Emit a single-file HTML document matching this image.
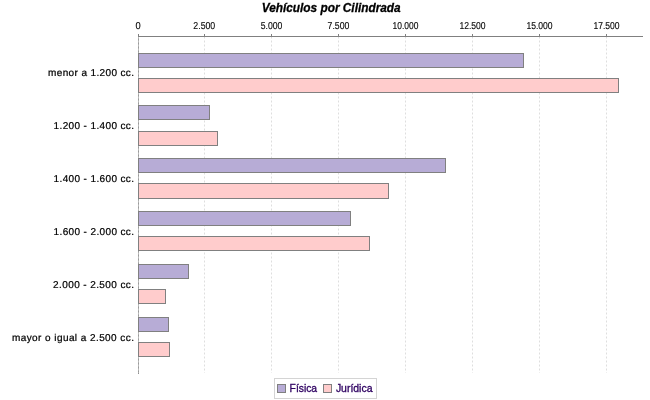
<!DOCTYPE html>
<html><head><meta charset="utf-8"><title>Vehículos por Cilindrada</title>
<style>
html,body{margin:0;padding:0;background:#fff;}
body{width:650px;height:400px;overflow:hidden;font-family:"Liberation Sans",sans-serif;}
svg{display:block;will-change:transform;}
text{font-family:"Liberation Sans",sans-serif;}
.t{text-rendering:geometricPrecision;font-size:10px;fill:#000;text-anchor:middle;stroke:#000;stroke-width:0.12px;}
.c{text-rendering:geometricPrecision;font-size:10px;fill:#000;text-anchor:end;letter-spacing:0.37px;stroke:#000;stroke-width:0.22px;}
.l{font-size:11px;fill:#2e0061;stroke:#2e0061;stroke-width:0.32px;}
</style></head><body>
<svg width="650" height="400" viewBox="0 0 650 400">
<rect x="0" y="0" width="650" height="400" fill="#ffffff"/>
<text x="331.2" y="11.8" text-anchor="middle" font-size="12.5" font-weight="bold" font-style="italic" fill="#000" stroke="#000" stroke-width="0.3" textLength="139" lengthAdjust="spacingAndGlyphs">Vehículos por Cilindrada</text>
<g shape-rendering="crispEdges" fill="none">
<line x1="204.5" y1="36.5" x2="204.5" y2="373" stroke="#dedede" stroke-width="1" stroke-dasharray="2,2" shape-rendering="geometricPrecision"/>
<line x1="271.5" y1="36.5" x2="271.5" y2="373" stroke="#dedede" stroke-width="1" stroke-dasharray="2,2" shape-rendering="geometricPrecision"/>
<line x1="338.5" y1="36.5" x2="338.5" y2="373" stroke="#dedede" stroke-width="1" stroke-dasharray="2,2" shape-rendering="geometricPrecision"/>
<line x1="405.5" y1="36.5" x2="405.5" y2="373" stroke="#dedede" stroke-width="1" stroke-dasharray="2,2" shape-rendering="geometricPrecision"/>
<line x1="472.5" y1="36.5" x2="472.5" y2="373" stroke="#dedede" stroke-width="1" stroke-dasharray="2,2" shape-rendering="geometricPrecision"/>
<line x1="539.5" y1="36.5" x2="539.5" y2="373" stroke="#dedede" stroke-width="1" stroke-dasharray="2,2" shape-rendering="geometricPrecision"/>
<line x1="606.5" y1="36.5" x2="606.5" y2="373" stroke="#dedede" stroke-width="1" stroke-dasharray="2,2" shape-rendering="geometricPrecision"/>
<line x1="138.5" y1="37" x2="138.5" y2="374" stroke="#bebebe" stroke-width="1"/>
<line x1="138.5" y1="38.5" x2="138.5" y2="374" stroke="#9a9a9a" stroke-width="1" stroke-dasharray="2,2" shape-rendering="geometricPrecision"/>
<line x1="138.5" y1="373" x2="138.5" y2="374" stroke="#909090" stroke-width="1"/>
<rect x="138.5" y="53.5" width="385" height="14" fill="#b7acd6" stroke="#808080" stroke-width="1"/>
<rect x="138.5" y="78.5" width="480" height="14" fill="#ffcccc" stroke="#808080" stroke-width="1"/>
<rect x="138.5" y="105.5" width="71" height="14" fill="#b7acd6" stroke="#808080" stroke-width="1"/>
<rect x="138.5" y="131.5" width="79" height="14" fill="#ffcccc" stroke="#808080" stroke-width="1"/>
<rect x="138.5" y="158.5" width="307" height="14" fill="#b7acd6" stroke="#808080" stroke-width="1"/>
<rect x="138.5" y="183.5" width="250" height="15" fill="#ffcccc" stroke="#808080" stroke-width="1"/>
<rect x="138.5" y="211.5" width="212" height="14" fill="#b7acd6" stroke="#808080" stroke-width="1"/>
<rect x="138.5" y="236.5" width="231" height="14" fill="#ffcccc" stroke="#808080" stroke-width="1"/>
<rect x="138.5" y="264.5" width="50" height="14" fill="#b7acd6" stroke="#808080" stroke-width="1"/>
<rect x="138.5" y="289.5" width="27" height="14" fill="#ffcccc" stroke="#808080" stroke-width="1"/>
<rect x="138.5" y="317.5" width="30" height="14" fill="#b7acd6" stroke="#808080" stroke-width="1"/>
<rect x="138.5" y="342.5" width="31" height="14" fill="#ffcccc" stroke="#808080" stroke-width="1"/>
<line x1="138" y1="36.5" x2="643" y2="36.5" stroke="#808080" stroke-width="1"/>
<line x1="138.5" y1="34" x2="138.5" y2="36" stroke="#808080" stroke-width="1"/>
<line x1="204.5" y1="34" x2="204.5" y2="36" stroke="#808080" stroke-width="1"/>
<line x1="271.5" y1="34" x2="271.5" y2="36" stroke="#808080" stroke-width="1"/>
<line x1="338.5" y1="34" x2="338.5" y2="36" stroke="#808080" stroke-width="1"/>
<line x1="405.5" y1="34" x2="405.5" y2="36" stroke="#808080" stroke-width="1"/>
<line x1="472.5" y1="34" x2="472.5" y2="36" stroke="#808080" stroke-width="1"/>
<line x1="539.5" y1="34" x2="539.5" y2="36" stroke="#808080" stroke-width="1"/>
<line x1="606.5" y1="34" x2="606.5" y2="36" stroke="#808080" stroke-width="1"/>
<rect x="274.5" y="378.5" width="102" height="20" fill="#fff" stroke="#d4d4d4" stroke-width="1"/>
<rect x="277.5" y="384.5" width="8" height="8" fill="#b7acd6" stroke="#808080" stroke-width="1"/>
<rect x="323.5" y="384.5" width="8" height="8" fill="#ffcccc" stroke="#808080" stroke-width="1"/>
</g>
<text class="t" x="138.2" y="28.8" textLength="5.2" lengthAdjust="spacingAndGlyphs">0</text>
<text class="t" x="204.3" y="28.8" textLength="21.9" lengthAdjust="spacingAndGlyphs">2.500</text>
<text class="t" x="271.6" y="28.8" textLength="21.6" lengthAdjust="spacingAndGlyphs">5.000</text>
<text class="t" x="338.5" y="28.8" textLength="21.9" lengthAdjust="spacingAndGlyphs">7.500</text>
<text class="t" x="405.5" y="28.8" textLength="25.8" lengthAdjust="spacingAndGlyphs">10.000</text>
<text class="t" x="472.5" y="28.8" textLength="26.2" lengthAdjust="spacingAndGlyphs">12.500</text>
<text class="t" x="539.5" y="28.8" textLength="26.2" lengthAdjust="spacingAndGlyphs">15.000</text>
<text class="t" x="606.5" y="28.8" textLength="26.2" lengthAdjust="spacingAndGlyphs">17.500</text>
<text class="c" x="134.4" y="75.8" style="letter-spacing:0.37px">menor a 1.200 cc.</text>
<text class="c" x="134.4" y="128.8" style="letter-spacing:0.37px">1.200 - 1.400 cc.</text>
<text class="c" x="134.4" y="181.8" style="letter-spacing:0.37px">1.400 - 1.600 cc.</text>
<text class="c" x="134.4" y="234.8" style="letter-spacing:0.37px">1.600 - 2.000 cc.</text>
<text class="c" x="134.4" y="287.8" style="letter-spacing:0.4px">2.000 - 2.500 cc.</text>
<text class="c" x="134.4" y="340.8" style="letter-spacing:0.43px">mayor o igual a 2.500 cc.</text>
<text class="l" x="289.6" y="392" textLength="27.5"lengthAdjust="spacingAndGlyphs">Física</text>
<text class="l" x="335.9" y="392" textLength="36.6" lengthAdjust="spacingAndGlyphs">Jurídica</text>
</svg></body></html>
